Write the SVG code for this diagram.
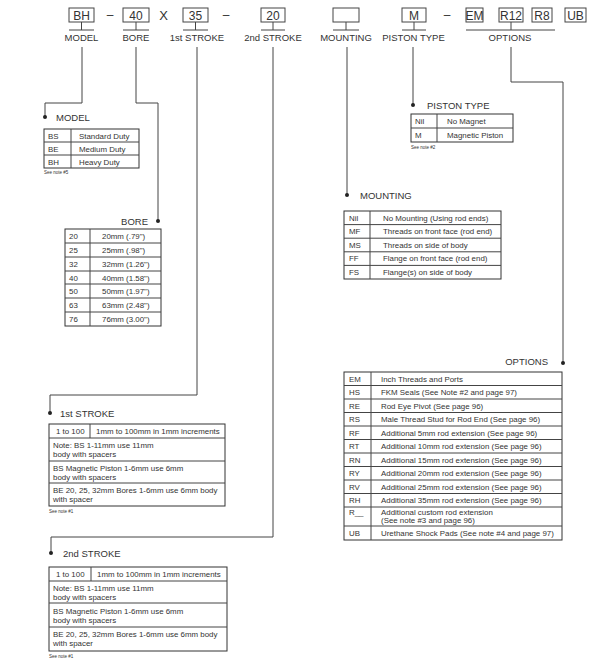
<svg xmlns="http://www.w3.org/2000/svg" width="600" height="672" viewBox="0 0 600 672">
<style>
text{font-family:"Liberation Sans",Arial,sans-serif;fill:#333}
.box{fill:none;stroke:#444;stroke-width:1}
.hb{font-size:12px;text-anchor:middle}
.hl{font-size:9.5px;text-anchor:middle}
.ln{fill:none;stroke:#444;stroke-width:1}
.t{font-size:7.9px}
.ttl{font-size:9.5px}
.note{font-size:4.5px}
.dot{fill:#222}
.tb{fill:#fff;stroke:#333;stroke-width:1}
</style>
<rect width="600" height="672" fill="#fff"/>

<g id="header">
  <g id="h-model"><rect class="box" x="69" y="8" width="25" height="14"/><text class="hb" x="81.5" y="20">BH</text><path class="ln" d="M81.5 22V30M69 30H94"/><text class="hl" x="81.5" y="41">MODEL</text></g>
  <text x="110" y="19" font-size="12" text-anchor="middle">–</text>
  <g id="h-bore"><rect class="box" x="123" y="8" width="26" height="14"/><text class="hb" x="136" y="20">40</text><path class="ln" d="M136 22V30M123 30H149"/><text class="hl" x="136" y="41">BORE</text></g>
  <text x="163.5" y="19.5" font-size="13" text-anchor="middle">X</text>
  <g id="h-stroke1"><rect class="box" x="183" y="8" width="25" height="14"/><text class="hb" x="195.5" y="20">35</text><path class="ln" d="M195.5 22V30M183 30H208"/><text class="hl" x="197" y="41">1st STROKE</text></g>
  <text x="226" y="19" font-size="12" text-anchor="middle">–</text>
  <g id="h-stroke2"><rect class="box" x="261" y="8" width="24" height="14"/><text class="hb" x="273" y="20">20</text><path class="ln" d="M273 22V30M261 30H285"/><text class="hl" x="273" y="41">2nd STROKE</text></g>
  <g id="h-mount"><rect class="box" x="333" y="8" width="26" height="14"/><path class="ln" d="M346 22V30M333 30H359"/><text class="hl" x="346" y="41">MOUNTING</text></g>
  <g id="h-piston"><rect class="box" x="402" y="8" width="24" height="14"/><text class="hb" x="414" y="20">M</text><path class="ln" d="M414 22V30M402 30H426"/><text class="hl" x="413.5" y="41">PISTON TYPE</text></g>
  <text x="447" y="19" font-size="12" text-anchor="middle">–</text>
  <g id="h-options">
    <rect class="box" x="466" y="8" width="17" height="14"/><text class="hb" x="474.5" y="20">EM</text>
    <rect class="box" x="499" y="8" width="24" height="14"/><text class="hb" x="511" y="20">R12</text>
    <rect class="box" x="532" y="8" width="20" height="14"/><text class="hb" x="542" y="20">R8</text>
    <rect class="box" x="565" y="8" width="21" height="14"/><text class="hb" x="575.5" y="20">UB</text>
    <path class="ln" d="M511 22V30M466 30H555"/>
    <text class="hl" x="510" y="41">OPTIONS</text>
  </g>
</g>

<g id="connectors">
  <path class="ln" d="M82 47V103H45V117"/>
  <path class="ln" d="M136 47V103H158V221"/>
  <path class="ln" d="M197 47V395H50V413"/>
  <path class="ln" d="M273 47V537H51V553"/>
  <path class="ln" d="M347 47V195"/>
  <path class="ln" d="M413 47V105"/>
  <path class="ln" d="M511 47V82H563V363"/>
  <circle class="dot" cx="45" cy="117" r="2"/>
  <circle class="dot" cx="158" cy="221" r="2"/>
  <circle class="dot" cx="50" cy="413" r="2"/>
  <circle class="dot" cx="51" cy="553" r="2"/>
  <circle class="dot" cx="347" cy="195" r="2"/>
  <circle class="dot" cx="413" cy="105" r="2"/>
  <circle class="dot" cx="563" cy="363" r="2"/>
</g>

<g id="model">
  <text class="ttl" x="56" y="121">MODEL</text>
  <rect class="tb" x="44" y="129" width="95" height="39"/>
  <path class="ln" d="M44 142H139M44 155H139M71 129V168"/>
  <text class="t" x="48" y="138.5">BS</text><text class="t" x="79" y="138.5">Standard Duty</text>
  <text class="t" x="48" y="151.5">BE</text><text class="t" x="79" y="151.5">Medium Duty</text>
  <text class="t" x="48" y="164.5">BH</text><text class="t" x="79" y="164.5">Heavy Duty</text>
  <text class="note" x="44" y="174">See note #5</text>
</g>

<g id="bore">
  <text class="ttl" x="148" y="225" text-anchor="end">BORE</text>
  <rect class="tb" x="65" y="229" width="96" height="97"/>
  <path class="ln" d="M65 243H161M65 257H161M65 271H161M65 284H161M65 298H161M65 312H161M90 229V326"/>
  <text class="t" x="69" y="239">20</text><text class="t" x="102" y="239">20mm (.79")</text>
  <text class="t" x="69" y="253">25</text><text class="t" x="102" y="253">25mm (.98")</text>
  <text class="t" x="69" y="267">32</text><text class="t" x="102" y="267">32mm (1.26")</text>
  <text class="t" x="69" y="280.5">40</text><text class="t" x="102" y="280.5">40mm (1.58")</text>
  <text class="t" x="69" y="294">50</text><text class="t" x="102" y="294">50mm (1.97")</text>
  <text class="t" x="69" y="308">63</text><text class="t" x="102" y="308">63mm (2.48")</text>
  <text class="t" x="69" y="322">76</text><text class="t" x="102" y="322">76mm (3.00")</text>
</g>

<g id="piston-type">
  <text class="ttl" x="427" y="109">PISTON TYPE</text>
  <rect class="tb" x="411" y="114" width="102" height="28"/>
  <path class="ln" d="M411 128H513M437 114V142"/>
  <text class="t" x="415" y="124">Nil</text><text class="t" x="447" y="124">No Magnet</text>
  <text class="t" x="415" y="138">M</text><text class="t" x="447" y="138">Magnetic Piston</text>
  <text class="note" x="411" y="149">See note #2</text>
</g>

<g id="mounting">
  <text class="ttl" x="360" y="199">MOUNTING</text>
  <rect class="tb" x="344" y="211" width="157" height="68"/>
  <path class="ln" d="M344 224.6H501M344 238.2H501M344 251.8H501M344 265.4H501M370 211V279"/>
  <text class="t" x="349" y="220.6">Nil</text><text class="t" x="383" y="220.6">No Mounting (Using rod ends)</text>
  <text class="t" x="349" y="234.2">MF</text><text class="t" x="383" y="234.2">Threads on front face (rod end)</text>
  <text class="t" x="349" y="247.8">MS</text><text class="t" x="383" y="247.8">Threads on side of body</text>
  <text class="t" x="349" y="261.4">FF</text><text class="t" x="383" y="261.4">Flange on front face (rod end)</text>
  <text class="t" x="349" y="275">FS</text><text class="t" x="383" y="275">Flange(s) on side of body</text>
</g>

<g id="options">
  <text class="ttl" x="548" y="365" text-anchor="end">OPTIONS</text>
  <rect class="tb" x="344" y="372" width="218" height="168"/>
  <path class="ln" d="M344 385.5H562M344 399H562M344 412.5H562M344 426H562M344 439.5H562M344 453H562M344 466.5H562M344 480H562M344 493.5H562M344 507H562M344 526H562M371 372V540"/>
  <text class="t" x="349" y="381.5">EM</text><text class="t" x="381" y="381.5">Inch Threads and Ports</text>
  <text class="t" x="349" y="395">HS</text><text class="t" x="381" y="395">FKM Seals (See Note #2 and page 97)</text>
  <text class="t" x="349" y="408.5">RE</text><text class="t" x="381" y="408.5">Rod Eye Pivot (See page 96)</text>
  <text class="t" x="349" y="422">RS</text><text class="t" x="381" y="422">Male Thread Stud for Rod End (See page 96)</text>
  <text class="t" x="349" y="435.5">RF</text><text class="t" x="381" y="435.5">Additional 5mm rod extension  (See page 96)</text>
  <text class="t" x="349" y="449">RT</text><text class="t" x="381" y="449">Additional 10mm rod extension  (See page 96)</text>
  <text class="t" x="349" y="462.5">RN</text><text class="t" x="381" y="462.5">Additional 15mm rod extension  (See page 96)</text>
  <text class="t" x="349" y="476">RY</text><text class="t" x="381" y="476">Additional 20mm rod extension (See page 96)</text>
  <text class="t" x="349" y="489.5">RV</text><text class="t" x="381" y="489.5">Additional 25mm rod extension  (See page 96)</text>
  <text class="t" x="349" y="503">RH</text><text class="t" x="381" y="503">Additional 35mm rod extension  (See page 96)</text>
  <text class="t" x="349" y="515">R__</text><text class="t" x="381" y="515">Additional custom rod extension</text>
  <text class="t" x="381" y="523">(See note #3 and page 96)</text>
  <text class="t" x="349" y="536">UB</text><text class="t" x="381" y="536">Urethane Shock Pads (See note #4 and page 97)</text>
</g>

<g id="stroke1">
  <text class="ttl" x="60" y="417">1st STROKE</text>
  <rect class="tb" x="49" y="424" width="176" height="82"/>
  <path class="ln" d="M49 438H225M49 461H225M49 483H225M90 424V438"/>
  <text class="t" x="56" y="434">1 to 100</text><text class="t" x="96" y="434">1mm to 100mm in 1mm increments</text>
  <text class="t" x="53" y="448">Note: BS 1-11mm use 11mm</text>
  <text class="t" x="53" y="457">body with spacers</text>
  <text class="t" x="53" y="471">BS Magnetic Piston 1-6mm use 6mm</text>
  <text class="t" x="53" y="479.5">body with spacers</text>
  <text class="t" x="53" y="493">BE 20, 25, 32mm Bores 1-6mm use 6mm body</text>
  <text class="t" x="53" y="502">with spacer</text>
  <text class="note" x="49" y="513">See note #1</text>
</g>

<g id="stroke2">
  <text class="ttl" x="63" y="557">2nd STROKE</text>
  <rect class="tb" x="49" y="567" width="178" height="84"/>
  <path class="ln" d="M49 581H227M49 603H227M49 627H227M91 567V581"/>
  <text class="t" x="56" y="577">1 to 100</text><text class="t" x="97" y="577">1mm to 100mm in 1mm increments</text>
  <text class="t" x="53" y="591">Note: BS 1-11mm use 11mm</text>
  <text class="t" x="53" y="599.5">body with spacers</text>
  <text class="t" x="53" y="614">BS Magnetic Piston 1-6mm use 6mm</text>
  <text class="t" x="53" y="622.5">body with spacers</text>
  <text class="t" x="53" y="637">BE 20, 25, 32mm Bores 1-6mm use 6mm body</text>
  <text class="t" x="53" y="646">with spacer</text>
  <text class="note" x="49" y="658">See note #1</text>
</g>
</svg>
